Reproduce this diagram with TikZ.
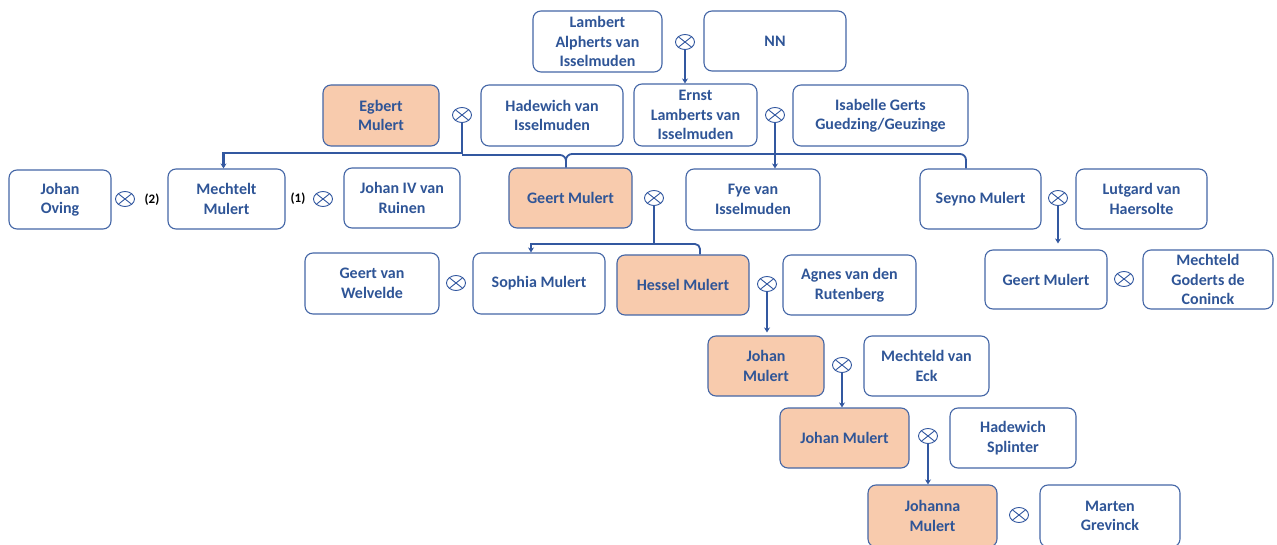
\documentclass[tikz,border=0pt]{standalone}
\usepackage{fontspec}
\setmainfont{Carlito}
\usetikzlibrary{shapes.geometric,arrows.meta,calc}
\definecolor{boxborder}{HTML}{4466A6}
\definecolor{textblue}{HTML}{2F5597}
\definecolor{lineblue}{HTML}{3358A0}
\definecolor{peach}{HTML}{F8CBAD}
\tikzset{
  box/.style={draw=boxborder, line width=1.1pt, rounded corners=8pt, align=center,
    text=textblue, font=\fontsize{16}{19.5}\selectfont\bfseries, inner sep=1pt, fill=white},
  anc/.style={box, fill=peach},
  marr/.style={ellipse, draw=lineblue, line width=0.9pt, minimum width=19pt, minimum height=15pt, inner sep=0pt,
    path picture={\draw[lineblue, line width=0.9pt] (path picture bounding box.north west) -- (path picture bounding box.south east)
      (path picture bounding box.north east) -- (path picture bounding box.south west);}},
  stem/.style={draw=lineblue, line width=2.9pt},
  thinline/.style={draw=lineblue, line width=1.8pt},
  tip/.style={-{Stealth[length=5pt,width=6pt]}},
  lbl/.style={font=\fontsize{13}{15}\selectfont\bfseries, text=black, inner sep=0pt}
}
\begin{document}
\begin{tikzpicture}[x=1pt,y=-1pt]
\useasboundingbox (0,0) rectangle (1277,545);
% coordinates for bus lines
\coordinate (busA) at (0,153);
\coordinate (busB) at (0,155);
\coordinate (busC) at (0,154);
\coordinate (busD) at (0,244);
% row 1
\node[box, minimum width=129pt, minimum height=61pt] (lambert) at (597.5,41.5) {Lambert\\Alpherts van\\Isselmuden};
\node[box, minimum width=142pt, minimum height=60pt] (nn) at (775,41) {NN};
\node[marr] (m1) at (685,42) {};
% row 2
\node[anc, minimum width=116pt, minimum height=61pt] (egbert) at (381,115.5) {Egbert\\Mulert};
\node[box, minimum width=142pt, minimum height=61pt] (hadewich) at (552,115.5) {Hadewich van\\Isselmuden};
\node[box, minimum width=123pt, minimum height=62pt] (ernst) at (695.5,115) {Ernst\\Lamberts van\\Isselmuden};
\node[box, minimum width=175pt, minimum height=61pt] (isabelle) at (880.5,115.5) {Isabelle Gerts\\Guedzing/Geuzinge};
\node[marr] (m2) at (462,115) {};
\node[marr] (m3) at (775,115) {};
% row 3
\node[box, minimum width=102pt, minimum height=59pt] (oving) at (60,199.5) {Johan\\Oving};
\node[box, minimum width=117pt, minimum height=60pt] (mechtelt) at (226.5,199) {Mechtelt\\Mulert};
\node[box, minimum width=116pt, minimum height=60pt] (ruinen) at (402,198) {Johan IV van\\Ruinen};
\node[anc, minimum width=123pt, minimum height=60pt] (geert1) at (570.5,198) {Geert Mulert};
\node[box, minimum width=134pt, minimum height=61pt] (fye) at (753,199.5) {Fye van\\Isselmuden};
\node[box, minimum width=121pt, minimum height=60pt] (seyno) at (980.5,199) {Seyno Mulert};
\node[box, minimum width=131pt, minimum height=60pt] (lutgard) at (1141.5,199) {Lutgard van\\Haersolte};
\node[marr] (m4) at (125,199) {};
\node[lbl] (l2) at (152,200) {(2)};
\node[lbl] (l1) at (298,199) {(1)};
\node[marr] (m5) at (323,199) {};
\node[marr] (m6) at (654,198) {};
\node[marr] (m7) at (1058,198) {};
% row 4
\node[box, minimum width=134pt, minimum height=61pt] (welvelde) at (372,283.5) {Geert van\\Welvelde};
\node[box, minimum width=132pt, minimum height=61pt] (sophia) at (539,283.5) {Sophia Mulert};
\node[anc, minimum width=132pt, minimum height=60pt] (hessel) at (683,285) {Hessel Mulert};
\node[box, minimum width=133pt, minimum height=60pt] (agnes) at (849.5,285) {Agnes van den\\Rutenberg};
\node[box, minimum width=122pt, minimum height=59pt] (geert2) at (1046,279.5) {Geert Mulert};
\node[box, minimum width=130pt, minimum height=59pt] (coninck) at (1208,279.5) {Mechteld\\Goderts de\\Coninck};
\node[marr] (m8) at (456,283) {};
\node[marr] (m9) at (767,284) {};
\node[marr] (m10) at (1124,279) {};
% row 5-7
\node[anc, minimum width=116pt, minimum height=60pt] (johan1) at (766,366) {Johan\\Mulert};
\node[box, minimum width=125pt, minimum height=60pt] (eck) at (926.5,366) {Mechteld van\\Eck};
\node[marr] (m11) at (842,365) {};
\node[anc, minimum width=129pt, minimum height=60pt] (johan2) at (844.5,438) {Johan Mulert};
\node[box, minimum width=126pt, minimum height=60pt] (splinter) at (1013,438) {Hadewich\\Splinter};
\node[marr] (m12) at (928,436) {};
\node[anc, minimum width=129pt, minimum height=62pt] (johanna) at (932.5,516) {Johanna\\Mulert};
\node[box, minimum width=140pt, minimum height=62pt] (marten) at (1110,516) {Marten\\Grevinck};
\node[marr] (m13) at (1019,515) {};
% connectors
\draw[stem, tip] (m1.south) -- (m1.south |- ernst.north);
\draw[stem, tip] (m2.south) -- (m2.south |- busA) -| ([xshift=-3pt]mechtelt.north);
\draw[thinline, rounded corners=6pt] (m2.south |- busB) -| ([xshift=-4.5pt]geert1.north);
\draw[thinline, rounded corners=6pt] ([xshift=-4.5pt]geert1.north) |- ($(seyno.north |- busC)+(-14.5,0)$) -- ([xshift=-14.5pt]seyno.north);
\draw[stem, tip] (m3.south) -- (m3.south |- fye.north);
\draw[stem] (m6.south) -- (m6.south |- busD);
\draw[thinline, tip] (m6.south |- busD) -| ([xshift=-8pt]sophia.north);
\draw[thinline, rounded corners=5pt] (m6.south |- busD) -| ([xshift=17pt]hessel.north);
\draw[stem, tip] (m7.south) -- ($(m7.south |- geert2.north)+(0,-6)$);
\draw[stem, tip] (m9.south) -- ($(m9.south |- johan1.north)+(0,-3)$);
\draw[stem, tip] (m11.south) -- (m11.south |- johan2.north);
\draw[stem, tip] (m12.south) -- (m12.south |- johanna.north);
\end{tikzpicture}
\end{document}
